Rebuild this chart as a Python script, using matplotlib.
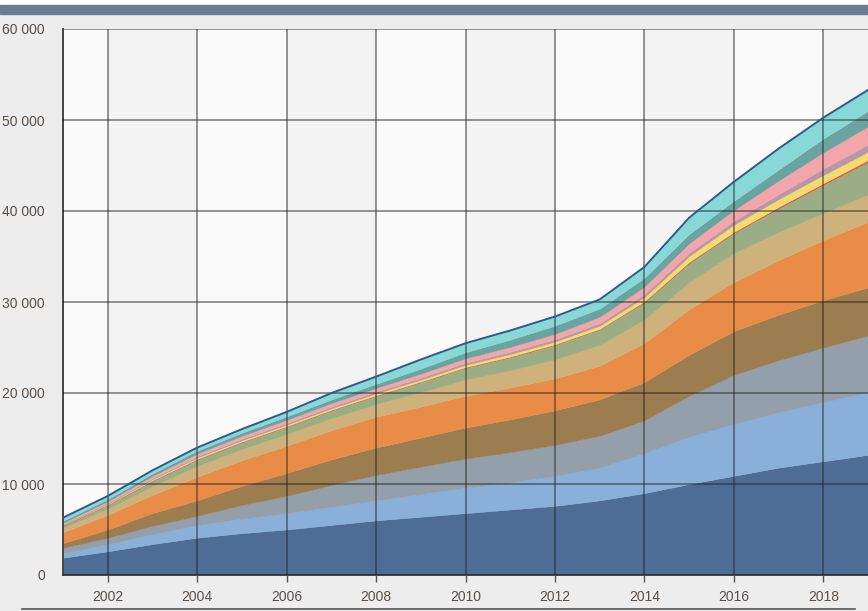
import numpy as np
import matplotlib.pyplot as plt
from matplotlib.patches import Rectangle
from matplotlib.lines import Line2D
from matplotlib.ticker import FuncFormatter

plt.rcParams['font.family'] = ['Liberation Sans', 'DejaVu Sans']
plt.rcParams['font.size'] = 10

# yearly values, bottom layer first
years = list(range(2001, 2020))
dark_blue = [1.9, 2.6, 3.4, 4.1, 4.6, 5.0, 5.5, 6.0, 6.4, 6.8, 7.2, 7.6, 8.2, 9.0, 10.0, 10.9, 11.8, 12.5, 13.2]
light_blue = [0.5, 0.8, 1.1, 1.4, 1.6, 1.8, 2.0, 2.2, 2.5, 2.8, 3.0, 3.3, 3.6, 4.4, 5.2, 5.7, 6.1, 6.5, 6.9]
grey_blue = [0.6, 0.7, 0.9, 1.0, 1.5, 1.9, 2.4, 2.8, 3.0, 3.2, 3.3, 3.4, 3.5, 3.6, 4.5, 5.4, 5.7, 6.0, 6.2]
brown = [0.5, 0.9, 1.4, 1.7, 2.1, 2.5, 2.8, 3.0, 3.2, 3.4, 3.6, 3.8, 4.0, 4.2, 4.5, 4.8, 5.0, 5.2, 5.3]
orange = [1.2, 1.6, 2.0, 2.6, 2.8, 3.0, 3.2, 3.4, 3.4, 3.5, 3.5, 3.5, 3.7, 4.3, 5.0, 5.4, 6.0, 6.6, 7.2]
tan = [0.5, 0.7, 1.0, 1.2, 1.25, 1.3, 1.35, 1.4, 1.6, 1.8, 1.9, 2.1, 2.3, 2.6, 3.0, 3.2, 3.1, 3.0, 3.0]
green = [0.25, 0.4, 0.55, 0.7, 0.75, 0.8, 0.85, 0.9, 1.1, 1.3, 1.45, 1.6, 1.7, 1.9, 2.1, 2.2, 2.6, 3.1, 3.6]
red = [0.05] * 13 + [0.08, 0.1, 0.1, 0.15, 0.15, 0.2]
yellow = [0.05, 0.08, 0.12, 0.15, 0.16, 0.17, 0.18, 0.2, 0.22, 0.25, 0.28, 0.3, 0.35, 0.45, 0.65, 0.8, 0.85, 0.9, 0.9]
mauve = [0.05, 0.08, 0.12, 0.15, 0.16, 0.17, 0.18, 0.2, 0.21, 0.22, 0.24, 0.25, 0.28, 0.32, 0.36, 0.4, 0.55, 0.7, 0.8]
pink = [0.15, 0.2, 0.25, 0.3, 0.33, 0.36, 0.38, 0.4, 0.45, 0.5, 0.55, 0.6, 0.7, 0.85, 1.05, 1.2, 1.5, 1.8, 2.0]
teal = [0.2, 0.22, 0.26, 0.3, 0.33, 0.37, 0.4, 0.45, 0.55, 0.65, 0.8, 0.9, 0.9, 0.95, 1.0, 1.0, 1.2, 1.5, 1.7]
cyan = [0.35, 0.35, 0.35, 0.35, 0.4, 0.5, 0.7, 0.8, 1.0, 1.0, 1.0, 1.0, 1.0, 1.2, 1.8, 2.1, 2.3, 2.3, 2.3]

layers = [dark_blue, light_blue, grey_blue, brown, orange, tan, green,
          red, yellow, mauve, pink, teal, cyan]
colors = ['#4d6d96', '#8aafd9', '#939fab', '#9b7d4f', '#e98c47', '#cfb17c',
          '#9bad84', '#e05050', '#f4dc6b', '#b896ac', '#f2a6a9', '#6ba3a1', '#88d8d7']

x = np.array(years, dtype=float)
ys = np.array(layers) * 1000

fig = plt.figure(figsize=(8.68, 6.11), dpi=100, facecolor='#ededed')
# header bar and bottom rule
fig.patches.append(Rectangle((0, 1 - 5 / 611), 1, 5 / 611, transform=fig.transFigure,
                             color='white', zorder=0))
fig.patches.append(Rectangle((0, 1 - 14 / 611), 1, 9 / 611, transform=fig.transFigure,
                             color='#6b7b90', zorder=0))
fig.lines.append(Line2D([22 / 868, 855 / 868], [1 - 609 / 611] * 2, transform=fig.transFigure,
                        color='#555555', lw=1.2))

ax = fig.add_axes([63 / 868, 1 - 575 / 611, 1 - 63 / 868, (575 - 29) / 611])
ax.set_facecolor('#fafafa')
for y0 in range(2002, 2019, 4):
    ax.axvspan(y0, y0 + 2, color='#f3f3f3', zorder=0, lw=0)

ax.stackplot(x, ys, colors=colors, edgecolor='face', linewidth=0.3, zorder=2)
ax.plot(x, ys.sum(axis=0), color='#2e5a8c', lw=1.4, zorder=3)

ax.set_xlim(2001, 2019)
ax.set_ylim(0, 60000)
ax.set_xticks(range(2002, 2019, 2))
ax.set_yticks(range(0, 60001, 10000))
ax.yaxis.set_major_formatter(FuncFormatter(lambda v, p: f'{int(v):,}'.replace(',', ' ')))
ax.grid(True, color='#222222', lw=1.1, alpha=0.6, zorder=4)
ax.set_axisbelow(False)

ax.tick_params(axis='y', length=0, pad=13, labelcolor='#5a5048')
ax.tick_params(axis='x', length=5, width=1, color='#555555', pad=6, labelcolor='#5a5048')
for side in ['top', 'right']:
    ax.spines[side].set_visible(False)
for side in ['left', 'bottom']:
    ax.spines[side].set_color('#444444')
    ax.spines[side].set_linewidth(1.4)

plt.savefig('out.png', dpi=100, facecolor=fig.get_facecolor())
